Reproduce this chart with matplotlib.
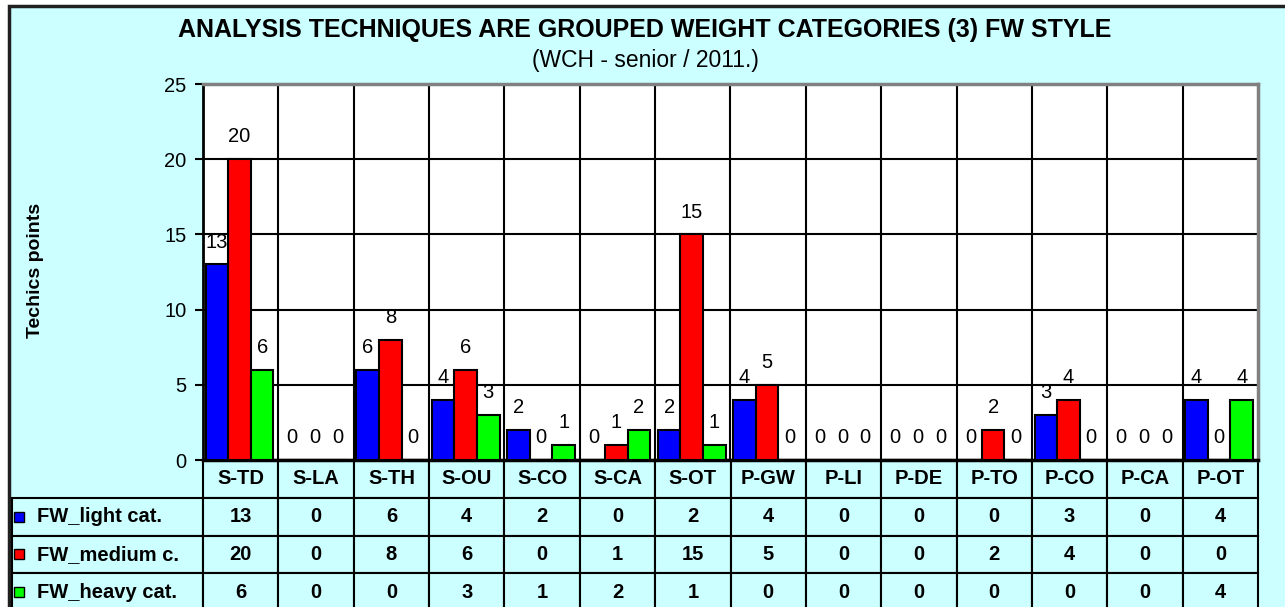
import numpy as np
import matplotlib
matplotlib.use('Agg')
import matplotlib.pyplot as plt
from matplotlib.patches import Rectangle
from matplotlib.table import Table

categories = ['S-TD', 'S-LA', 'S-TH', 'S-OU', 'S-CO', 'S-CA', 'S-OT',
              'P-GW', 'P-LI', 'P-DE', 'P-TO', 'P-CO', 'P-CA', 'P-OT']
light = [13, 0, 6, 4, 2, 0, 2, 4, 0, 0, 0, 3, 0, 4]
medium = [20, 0, 8, 6, 0, 1, 15, 5, 0, 0, 2, 4, 0, 0]
heavy = [6, 0, 0, 3, 1, 2, 1, 0, 0, 0, 0, 0, 0, 4]
series_names = ['FW_light cat.', 'FW_medium c.', 'FW_heavy cat.']
series_colors = ['#0000FF', '#FF0000', '#00FF00']
y_ticks = [0, 5, 10, 15, 20, 25]

title = 'ANALYSIS TECHNIQUES ARE GROUPED WEIGHT CATEGORIES (3) FW STYLE'
subtitle = '(WCH - senior / 2011.)'
y_label = 'Techics points'

BG = '#CCFFFF'
W, H = 1285, 607

plt.rcParams['font.family'] = ['Liberation Sans', 'DejaVu Sans']

fig = plt.figure(figsize=(W / 100, H / 100), dpi=100, facecolor='white')
# outer chart frame (Excel chart area)
fig.patches.append(Rectangle((9 / W, -0.05), 1.1, 1.05 - 6 / H,
                             transform=fig.transFigure, facecolor=BG,
                             edgecolor='#202020', lw=2.5, zorder=-1))

ax = fig.add_axes([203 / W, 1 - 460 / H, 1055 / W, 376 / H])
ax.set_facecolor('white')

x = np.arange(len(categories))
bw = 0.3
all_series = [light, medium, heavy]
for i, (vals, col) in enumerate(zip(all_series, series_colors)):
    pos = x + (i - 1) * bw - 0.015
    ax.bar(pos, vals, bw, color=col, edgecolor='black', lw=1.5, zorder=3)
    for px, v in zip(pos, vals):
        ax.annotate(str(v), (px, v), xytext=(0, 16), textcoords='offset points',
                    ha='center', va='center', fontsize=14.5, zorder=4)

ax.set_xlim(-0.5, len(categories) - 0.5)
ax.set_ylim(0, 25)
ax.set_yticks(y_ticks)
ax.set_xticks([])
ax.set_xticks(np.arange(0.5, len(categories) - 0.5, 1), minor=True)
ax.tick_params(axis='x', which='minor', length=0)
ax.tick_params(axis='y', length=6, width=1.5, labelsize=14.5, pad=6)
ax.grid(axis='x', which='minor', color='black', lw=1.5, zorder=1)
ax.grid(axis='y', which='major', color='black', lw=1.5, zorder=1)
ax.set_axisbelow(True)

ax.spines['left'].set_color('black')
ax.spines['left'].set_linewidth(2)
ax.spines['bottom'].set_color('black')
ax.spines['bottom'].set_linewidth(2.5)
for side in ('top', 'right'):
    ax.spines[side].set_color('#808080')
    ax.spines[side].set_linewidth(2.5)

# data table under the plot; bbox covers the value grid, labels sit left of it
col_w = 1 / len(categories)
label_w = 191 / 1055
row_h = 151 / 376 / 4
tbl = Table(ax, bbox=[0, (460 - 611) / 376, 1, 151 / 376])
for j, cat in enumerate(categories):
    tbl.add_cell(0, j, col_w, row_h, text=cat, loc='center', facecolor=BG)
for i, (name, vals) in enumerate(zip(series_names, all_series)):
    c = tbl.add_cell(i + 1, -1, label_w, row_h, text=name, loc='left',
                     facecolor=BG)
    c.PAD = 0.13
    for j, v in enumerate(vals):
        tbl.add_cell(i + 1, j, col_w, row_h, text=str(v), loc='center',
                     facecolor=BG)
tbl.auto_set_font_size(False)
tbl.set_fontsize(14.5)
for cell in tbl.get_celld().values():
    cell.set_edgecolor('black')
    cell.set_linewidth(1.5)
    cell.get_text().set_fontweight('bold')
ax.add_table(tbl)

# legend keys inside the row labels
for i, col in enumerate(series_colors):
    yc = (460 - (498 + 37.5 * i + 18.75)) / 376
    ax.add_patch(Rectangle(((14 - 203) / 1055, yc - 5 / 376), 10 / 1055,
                           10 / 376, transform=ax.transAxes, facecolor=col,
                           edgecolor='black', lw=1, clip_on=False, zorder=5))

fig.text(0.502, 1 - 30 / H, title, ha='center', va='center',
         fontsize=18, fontweight='bold')
fig.text(0.502, 1 - 60 / H, subtitle, ha='center', va='center', fontsize=16.5)
fig.text(36 / W, 1 - 270 / H, y_label, ha='center', va='center',
         rotation=90, fontsize=14, fontweight='bold')

fig.savefig('out.png', dpi=100, facecolor=fig.get_facecolor())
